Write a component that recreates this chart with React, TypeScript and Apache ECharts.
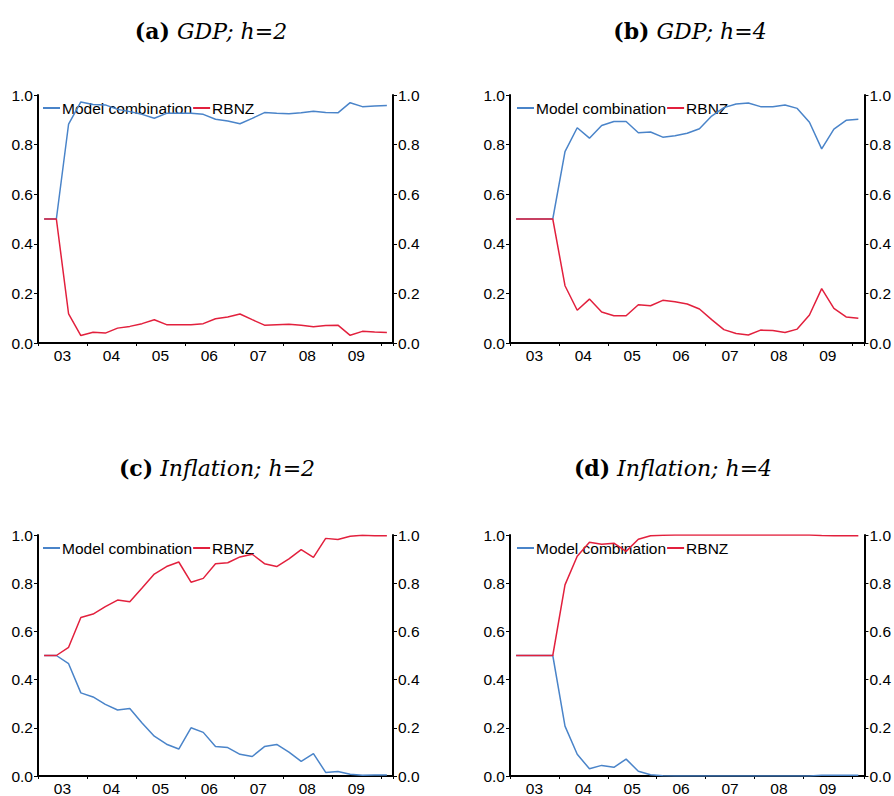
import React, { useEffect, useRef } from 'react';
import * as echarts from 'echarts';

const QUARTERS = [
  '2003Q1', '2003Q2', '2003Q3', '2003Q4',
  '2004Q1', '2004Q2', '2004Q3', '2004Q4',
  '2005Q1', '2005Q2', '2005Q3', '2005Q4',
  '2006Q1', '2006Q2', '2006Q3', '2006Q4',
  '2007Q1', '2007Q2', '2007Q3', '2007Q4',
  '2008Q1', '2008Q2', '2008Q3', '2008Q4',
  '2009Q1', '2009Q2', '2009Q3', '2009Q4',
  '2010Q1',
];

const YEARS = [2003, 2004, 2005, 2006, 2007, 2008, 2009];
const YEAR_LABELS = ['03', '04', '05', '06', '07', '08', '09'];

const SERIES_NAMES = ['Model combination', 'RBNZ'];

// (a) GDP; h=2
const GDP_H2_MODEL = [0.5, 0.5, 0.883, 0.972, 0.962, 0.96, 0.942, 0.933, 0.922, 0.906, 0.926, 0.926, 0.926, 0.922, 0.902, 0.895, 0.884, 0.906, 0.929, 0.926, 0.924, 0.928, 0.934, 0.929, 0.928, 0.969, 0.953, 0.956, 0.958];
const GDP_H2_RBNZ = [0.5, 0.5, 0.117, 0.03, 0.043, 0.04, 0.06, 0.067, 0.078, 0.094, 0.074, 0.074, 0.074, 0.078, 0.098, 0.105, 0.117, 0.094, 0.072, 0.074, 0.076, 0.072, 0.066, 0.071, 0.072, 0.031, 0.047, 0.044, 0.042];

// (b) GDP; h=4
const GDP_H4_MODEL = [0.5, 0.5, 0.5, 0.5, 0.772, 0.868, 0.826, 0.877, 0.893, 0.893, 0.848, 0.851, 0.83, 0.836, 0.846, 0.864, 0.915, 0.949, 0.964, 0.968, 0.953, 0.953, 0.96, 0.946, 0.89, 0.783, 0.862, 0.898, 0.902];
const GDP_H4_RBNZ = [0.5, 0.5, 0.5, 0.5, 0.231, 0.132, 0.177, 0.125, 0.11, 0.11, 0.154, 0.15, 0.172, 0.166, 0.157, 0.137, 0.094, 0.054, 0.038, 0.032, 0.052, 0.05, 0.042, 0.056, 0.113, 0.219, 0.14, 0.105, 0.1];

// (c) Inflation; h=2
const INF_H2_MODEL = [0.5, 0.5, 0.466, 0.345, 0.328, 0.297, 0.274, 0.28, 0.22, 0.165, 0.132, 0.112, 0.2, 0.181, 0.122, 0.118, 0.09, 0.081, 0.122, 0.131, 0.099, 0.061, 0.093, 0.015, 0.019, 0.007, 0.003, 0.004, 0.004];
const INF_H2_RBNZ = [0.5, 0.5, 0.534, 0.658, 0.672, 0.703, 0.73, 0.723, 0.78, 0.838, 0.869, 0.888, 0.804, 0.82, 0.881, 0.885, 0.909, 0.92, 0.881, 0.869, 0.901, 0.939, 0.907, 0.986, 0.981, 0.995, 0.999, 0.997, 0.997];

// (d) Inflation; h=4
const INF_H4_MODEL = [0.5, 0.5, 0.5, 0.5, 0.207, 0.09, 0.03, 0.044, 0.036, 0.07, 0.02, 0.005, 0.001, 0, 0, 0, 0, 0, 0, 0, 0, 0, 0, 0, 0, 0.003, 0.003, 0.003, 0.003];
const INF_H4_RBNZ = [0.5, 0.5, 0.5, 0.5, 0.793, 0.912, 0.97, 0.962, 0.966, 0.932, 0.982, 0.997, 0.999, 1, 1, 1, 1, 1, 1, 1, 1, 1, 1, 1, 1, 0.998, 0.997, 0.997, 0.997];

const PANEL_LETTERS = ['(a)', '(b)', '(c)', '(d)'];
const PANEL_TITLES = ['GDP; h=2', 'GDP; h=4', 'Inflation; h=2', 'Inflation; h=4'];
const PANEL_MODEL = [GDP_H2_MODEL, GDP_H4_MODEL, INF_H2_MODEL, INF_H4_MODEL];
const PANEL_RBNZ = [GDP_H2_RBNZ, GDP_H4_RBNZ, INF_H2_RBNZ, INF_H4_RBNZ];

const GRIDS = [
  { left: 38, top: 95, width: 355, height: 248 },
  { left: 510, top: 95, width: 358, height: 248 },
  { left: 38, top: 535, width: 355, height: 247 },
  { left: 510, top: 535, width: 358, height: 247 },
];
const TITLE_POS = [
  [211, 31],
  [690, 31],
  [217, 468],
  [673, 468],
];

const BLUE = '#4a84c9';
const RED = '#e2203d';
const SANS = 'Liberation Sans, Arial, sans-serif';
const SERIF = 'DejaVu Serif, serif';

function quarterToX(q: string): number {
  const y = Number(q.slice(0, 4));
  const n = Number(q.slice(5));
  return y + (n - 0.5) / 4;
}

function yearLabel(v: number): string {
  const frac = v - Math.floor(v);
  if (Math.abs(frac - 0.5) > 1e-6) return '';
  const idx = YEARS.indexOf(Math.floor(v));
  return idx >= 0 ? YEAR_LABELS[idx] : '';
}

function buildOption() {
  const grid: any[] = [];
  const xAxis: any[] = [];
  const yAxis: any[] = [];
  const series: any[] = [];
  const legend: any[] = [];
  const graphic: any[] = [];
  const xs = QUARTERS.map(quarterToX);

  GRIDS.forEach((g, i) => {
    grid.push({ ...g, containLabel: false });
    xAxis.push({
      type: 'value',
      gridIndex: i,
      position: 'bottom',
      min: 2003,
      max: 2010.25,
      interval: 1,
      axisLine: { show: true, onZero: false, lineStyle: { color: '#000', width: 2 } },
      axisTick: { show: true, length: 3, lineStyle: { color: '#000', width: 1 } },
      axisLabel: { show: false },
      splitLine: { show: false },
    });
    xAxis.push({
      type: 'value',
      gridIndex: i,
      position: 'bottom',
      min: 2003,
      max: 2010.25,
      interval: 0.5,
      axisLine: { show: false, onZero: false },
      axisTick: { show: false },
      splitLine: { show: false },
      axisLabel: {
        show: true,
        margin: 4,
        fontSize: 15.5,
        fontFamily: SANS,
        color: '#000',
        hideOverlap: false,
        formatter: (v: number) => yearLabel(v),
      },
    });
    const yBase = {
      type: 'value',
      gridIndex: i,
      min: 0,
      max: 1,
      interval: 0.2,
      axisLine: { show: true, onZero: false, lineStyle: { color: '#000', width: 2 } },
      axisTick: { show: true, length: 4, lineStyle: { color: '#000', width: 1 } },
      splitLine: { show: false },
      axisLabel: {
        margin: 5,
        fontSize: 15.5,
        fontFamily: SANS,
        color: '#000',
        formatter: (v: number) => v.toFixed(1),
      },
    };
    yAxis.push({ ...yBase, position: 'left' });
    yAxis.push({ ...yBase, position: 'right' });

    series.push({
      type: 'line',
      name: SERIES_NAMES[0],
      xAxisIndex: 2 * i,
      yAxisIndex: 2 * i,
      data: xs.map((x, k) => [x, PANEL_MODEL[i][k]]),
      symbol: 'none',
      color: BLUE,
      lineStyle: { color: BLUE, width: 1.5 },
      z: 3,
    });
    series.push({
      type: 'line',
      name: SERIES_NAMES[1],
      xAxisIndex: 2 * i,
      yAxisIndex: 2 * i,
      data: xs.map((x, k) => [x, PANEL_RBNZ[i][k]]),
      symbol: 'none',
      color: RED,
      lineStyle: { color: RED, width: 1.5 },
      z: 4,
    });

    legend.push({
      data: SERIES_NAMES,
      left: g.left + (i % 2 === 0 ? 5 : 7),
      top: g.top + 5,
      orient: 'horizontal',
      icon: 'rect',
      itemWidth: 17,
      itemHeight: 2,
      itemGap: 1,
      padding: 0,
      z: 1,
      selectedMode: false,
      textStyle: { fontSize: 15.5, fontFamily: SANS, color: '#000', padding: [0, 0, 0, -3] },
    });

    graphic.push({
      type: 'text',
      x: TITLE_POS[i][0],
      y: TITLE_POS[i][1],
      style: {
        text: `{b|${PANEL_LETTERS[i]}}{it| ${PANEL_TITLES[i]}}`,
        align: 'center',
        verticalAlign: 'middle',
        fill: '#000',
        rich: {
          b: { fontFamily: SERIF, fontWeight: 'bold', fontSize: 22, fill: '#000' },
          it: { fontFamily: SERIF, fontStyle: 'italic', fontSize: 22, fill: '#000' },
        },
      },
    });
  });

  return {
    animation: false,
    backgroundColor: '#fff',
    grid,
    xAxis,
    yAxis,
    series,
    legend,
    graphic,
  };
}

export default function App() {
  const ref = useRef<HTMLDivElement>(null);
  useEffect(() => {
    if (!ref.current) return;
    const chart = echarts.init(ref.current, undefined, { renderer: 'svg' });
    chart.setOption(buildOption() as any);
    return () => chart.dispose();
  }, []);
  return (
    <div
      ref={ref}
      style={{ position: 'absolute', left: 0, top: 0, width: 894, height: 796 }}
    />
  );
}
